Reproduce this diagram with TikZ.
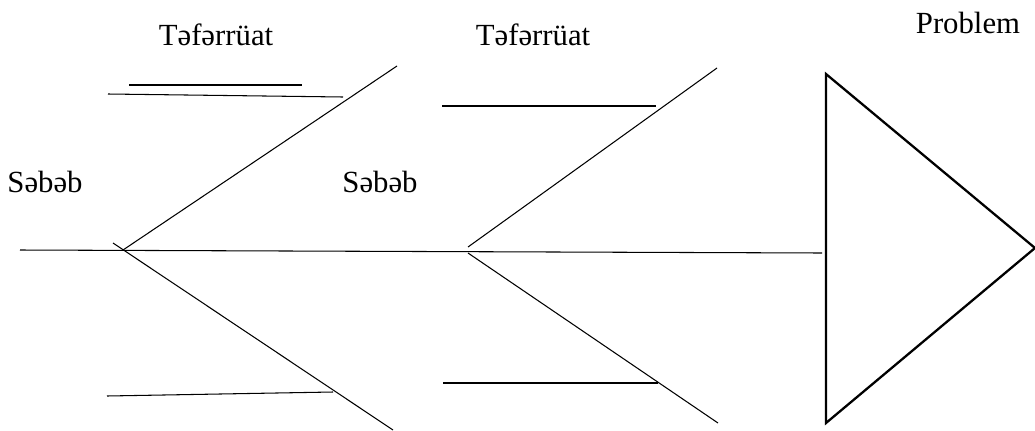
\documentclass[tikz,border=0pt]{standalone}
\usepackage{fontspec}
\setmainfont{Liberation Serif}
\usetikzlibrary{positioning}

\begin{document}
\begin{tikzpicture}[x=0.02cm, y=-0.02cm,
  bone/.style={line width=0.6pt},
  heavy/.style={line width=1.3pt, line join=miter},
  lbl/.style={font=\fontsize{17.5}{20}\selectfont, anchor=base, inner sep=0pt},
]
\useasboundingbox (0,0) rectangle (1035,430);

% labels
\node[lbl] (detail1) at (216,45) {Təfərrüat};
\node[lbl] (detail2) at (533,45) {Təfərrüat};
\node[lbl] (problem) at (968,33) {Problem};
\node[lbl] (cause1) at (45,192) {Səbəb};
\node[lbl] (cause2) at (380,192) {Səbəb};

% spine
\coordinate (tail) at (20,250);
\coordinate (neck) at (822,253);
\draw[bone] (tail) -- (neck);

% first pair of bones
\coordinate (j1) at (123,250);
\coordinate (j1b) at (113,243);
\coordinate (up1) at (397,66);
\coordinate (dn1) at (393,430);
\draw[bone] (j1) -- (up1);
\draw[bone] (j1b) -- (dn1);

% second pair of bones
\coordinate (j2a) at (468,247);
\coordinate (j2b) at (468,253);
\coordinate (up2) at (717,68);
\coordinate (dn2) at (718,423);
\draw[bone] (j2a) -- (up2);
\draw[bone] (j2b) -- (dn2);

% detail lines
\coordinate (d1s) at (129,85);  \coordinate (d1e) at (302,85);
\coordinate (d2s) at (108,94);  \coordinate (d2e) at (343,97);
\coordinate (d3s) at (107,396); \coordinate (d3e) at (333,392);
\coordinate (d4s) at (442,106); \coordinate (d4e) at (656,106);
\coordinate (d5s) at (443,383); \coordinate (d5e) at (658,383);
\draw[heavy] (d1s) -- (d1e);
\draw[bone] (d2s) -- (d2e);
\draw[bone] (d3s) -- (d3e);
\draw[bone] (d4s) -- (d4e);
\draw[bone] (d5s) -- (d5e);

% head
\coordinate (h1) at (826,74);
\coordinate (h2) at (1035,248);
\coordinate (h3) at (826,423);
\draw[heavy] (h1) -- (h2) -- (h3) -- cycle;
\end{tikzpicture}
\end{document}
